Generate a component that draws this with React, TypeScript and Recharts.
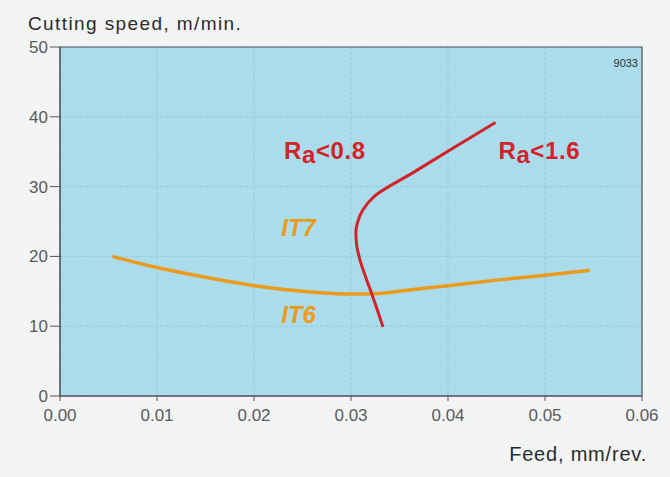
import React from 'react';
import { LineChart, Line, XAxis, YAxis, CartesianGrid, ReferenceArea, ReferenceDot } from 'recharts';

// axis ticks
const feedTicks = [0, 0.01, 0.02, 0.03, 0.04, 0.05, 0.06];
const speedTicks = [0, 10, 20, 30, 40, 50];

// IT6 / IT7 boundary (orange)
const itFeed = [0.0054, 0.01, 0.015, 0.02, 0.025, 0.03, 0.033, 0.036, 0.04, 0.045, 0.05, 0.0546];
const itSpeed = [20.0, 18.4, 17.0, 15.8, 15.0, 14.6, 14.7, 15.2, 15.8, 16.6, 17.3, 18.0];

// Ra 0.8 / 1.6 boundary (red), in drawing order from the bottom
const raFeed = [0.0333, 0.0321, 0.0316, 0.0309, 0.0306, 0.0305, 0.0307, 0.0312, 0.0324, 0.0364, 0.0405, 0.0449];
const raSpeed = [9.9, 14.8, 16.7, 19.6, 21.5, 23.4, 25.0, 26.6, 28.6, 32.0, 35.5, 39.2];

// annotation anchors [feed, speed] (left end / baseline of the text)
const raLowPos = [0.0231, 33.9];
const raHighPos = [0.0452, 33.9];
const it7Pos = [0.0228, 22.9];
const it6Pos = [0.0228, 10.5];

const itData = itFeed.map((x, i) => ({ x, y: itSpeed[i] }));
const raData = raFeed.map((x, i) => ({ x, y: raSpeed[i] }));

const RED = '#d2232a';
const ORANGE = '#eb9a1c';
const FONT = '"Liberation Sans", Arial, Helvetica, sans-serif';

const raLabel = (value: string) => (props: any) => {
  const vb = props.viewBox || {};
  const x = (vb.x || 0) + (vb.width || 0) / 2;
  const y = (vb.y || 0) + (vb.height || 0) / 2;
  return (
    <text x={x} y={y} fill={RED} fontFamily={FONT} fontWeight="bold" fontSize={24} letterSpacing={0.6}>
      <tspan>R</tspan>
      <tspan dy={4}>a</tspan>
      <tspan dy={-4}>{value}</tspan>
    </text>
  );
};

const itLabel = (value: string) => (props: any) => {
  const vb = props.viewBox || {};
  const x = (vb.x || 0) + (vb.width || 0) / 2;
  const y = (vb.y || 0) + (vb.height || 0) / 2;
  return (
    <text x={x} y={y} fill={ORANGE} fontFamily={FONT} fontWeight="bold" fontStyle="italic" fontSize={24}>
      {value}
    </text>
  );
};

export default function App() {
  return (
    <div
      style={{
        position: 'absolute',
        left: 0,
        top: 0,
        width: 670,
        height: 477,
        background: '#f3f5f4',
        fontFamily: FONT,
        overflow: 'hidden',
      }}
    >
      <div
        style={{
          position: 'absolute',
          left: 28,
          top: 13,
          fontSize: 19,
          letterSpacing: 1.4,
          color: '#2b2b2b',
        }}
      >
        Cutting speed, m/min.
      </div>
      <div
        style={{
          position: 'absolute',
          right: 23,
          top: 443,
          fontSize: 20,
          letterSpacing: 0.8,
          color: '#2b2b2b',
        }}
      >
        Feed, mm/rev.
      </div>

      <LineChart width={670} height={477} margin={{ top: 47, right: 28, bottom: 51, left: 0 }}>
        <CartesianGrid fill="#abdcec" stroke="#8ccbe0" strokeDasharray="3 2" />
        <XAxis
          type="number"
          dataKey="x"
          domain={[0, 0.06]}
          ticks={feedTicks}
          tickFormatter={(v: number) => v.toFixed(2)}
          height={30}
          tickSize={5}
          tickMargin={8}
          stroke="#555"
          tick={{ fill: '#5a5a5a', fontSize: 17, fontFamily: FONT }}
          allowDataOverflow
        />
        <YAxis
          type="number"
          dataKey="y"
          domain={[0, 50]}
          ticks={speedTicks}
          width={60}
          tickSize={10}
          tickMargin={2}
          stroke="#555"
          tick={{ fill: '#5a5a5a', fontSize: 17, fontFamily: FONT }}
        />
        <ReferenceArea x1={0} x2={0.06} y1={0} y2={50} fill="none" stroke="#555" strokeWidth={1.2} />
        <Line
          data={itData}
          dataKey="y"
          type="monotone"
          stroke={ORANGE}
          strokeWidth={3.5}
          dot={false}
          isAnimationActive={false}
        />
        <Line
          data={raData}
          dataKey="y"
          type="monotoneY"
          stroke={RED}
          strokeWidth={3}
          dot={false}
          isAnimationActive={false}
        />
        <ReferenceDot x={raLowPos[0]} y={raLowPos[1]} r={0} fill="none" stroke="none" label={raLabel('<0.8')} />
        <ReferenceDot x={raHighPos[0]} y={raHighPos[1]} r={0} fill="none" stroke="none" label={raLabel('<1.6')} />
        <ReferenceDot x={it7Pos[0]} y={it7Pos[1]} r={0} fill="none" stroke="none" label={itLabel('IT7')} />
        <ReferenceDot x={it6Pos[0]} y={it6Pos[1]} r={0} fill="none" stroke="none" label={itLabel('IT6')} />
      </LineChart>

      <div
        style={{
          position: 'absolute',
          right: 32,
          top: 57,
          fontSize: 11,
          color: '#333',
        }}
      >
        9033
      </div>
    </div>
  );
}
